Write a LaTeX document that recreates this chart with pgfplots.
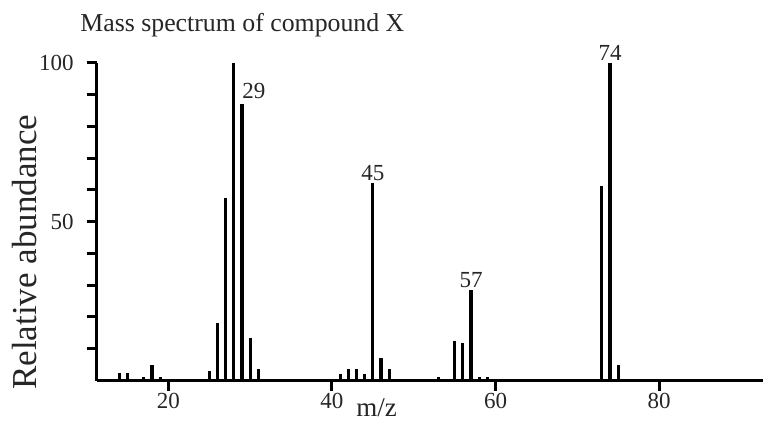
\documentclass[border=0pt]{standalone}
\usepackage{fontspec}
\setmainfont{Liberation Serif}
\usepackage{pgfplots}
\pgfplotsset{compat=1.18}
\colorlet{txt}{black!85}
\begin{document}
\begin{tikzpicture}
\begin{axis}[
    scale only axis,
    width=333.15pt, height=158.9pt,
    xmin=11.23, xmax=92.7,
    ymin=0, ymax=100,
    clip=false,
    axis x line=bottom, axis y line=left,
    axis line style={-, line width=1.5pt, black},
    xtick={20,40,60,80},
    ytick={10,20,...,100},
    yticklabels={,,,,50,,,,,100},
    tick align=outside,
    major tick length=5pt,
    tick style={line width=1.5pt, black},
    ticklabel style={font=\fontsize{11.5}{12}\selectfont, text=txt},
    xticklabel style={inner sep=1pt},
    yticklabel style={xshift=-3pt},
    /pgf/number format/assume math mode=true,
    ylabel={Relative abundance},
    ylabel style={at={(rel axis cs:-0.109,0.404)}, anchor=center,
        font=\fontsize{17.5}{19}\selectfont, text=txt},
]
% peaks (m/z, relative abundance)
\addplot[ycomb, line width=1.6pt, black] coordinates {
(14,2.5) (15,2.5) (17,1.2) (18,5) (19,1.2)
(25,3) (26,18) (27,57.5) (28,100) (29,87) (30,13.5) (31,3.5)
(41,2) (42,3.5) (43,3.5) (44,2) (45,62) (46,7) (47,3.5)
(53,1.2) (55,12.5) (56,11.8) (57,28.5) (58,1.2) (59,1.2)
(73,61.3) (74,100) (75,5)
};
\begin{scope}[every node/.style={font=\fontsize{11.5}{12}\selectfont, text=txt}]
\node[anchor=south west, inner sep=0pt, yshift=2.5pt] at (axis cs:29,87) {29};
\node[anchor=south, inner sep=1pt] at (axis cs:45,62) {45};
\node[anchor=south, inner sep=1pt] at (axis cs:57,28.5) {57};
\node[anchor=south, inner sep=1pt] at (axis cs:74,100) {74};
\end{scope}
\node[anchor=base, inner sep=0pt, font=\fontsize{13.5}{15}\selectfont, text=txt]
    at (rel axis cs:0.42,-0.1117) {m/z};
\node[anchor=base west, inner sep=0pt, font=\fontsize{12.9}{15}\selectfont, text=txt]
    at (rel axis cs:-0.025,1.098) {Mass spectrum of compound X};
\coordinate (bl) at (rel axis cs:-0.1451,-0.1495);
\coordinate (tr) at (rel axis cs:1,1.1973);
\end{axis}
\pgfresetboundingbox
\path[use as bounding box] (bl) rectangle (tr);
\end{tikzpicture}
\end{document}
